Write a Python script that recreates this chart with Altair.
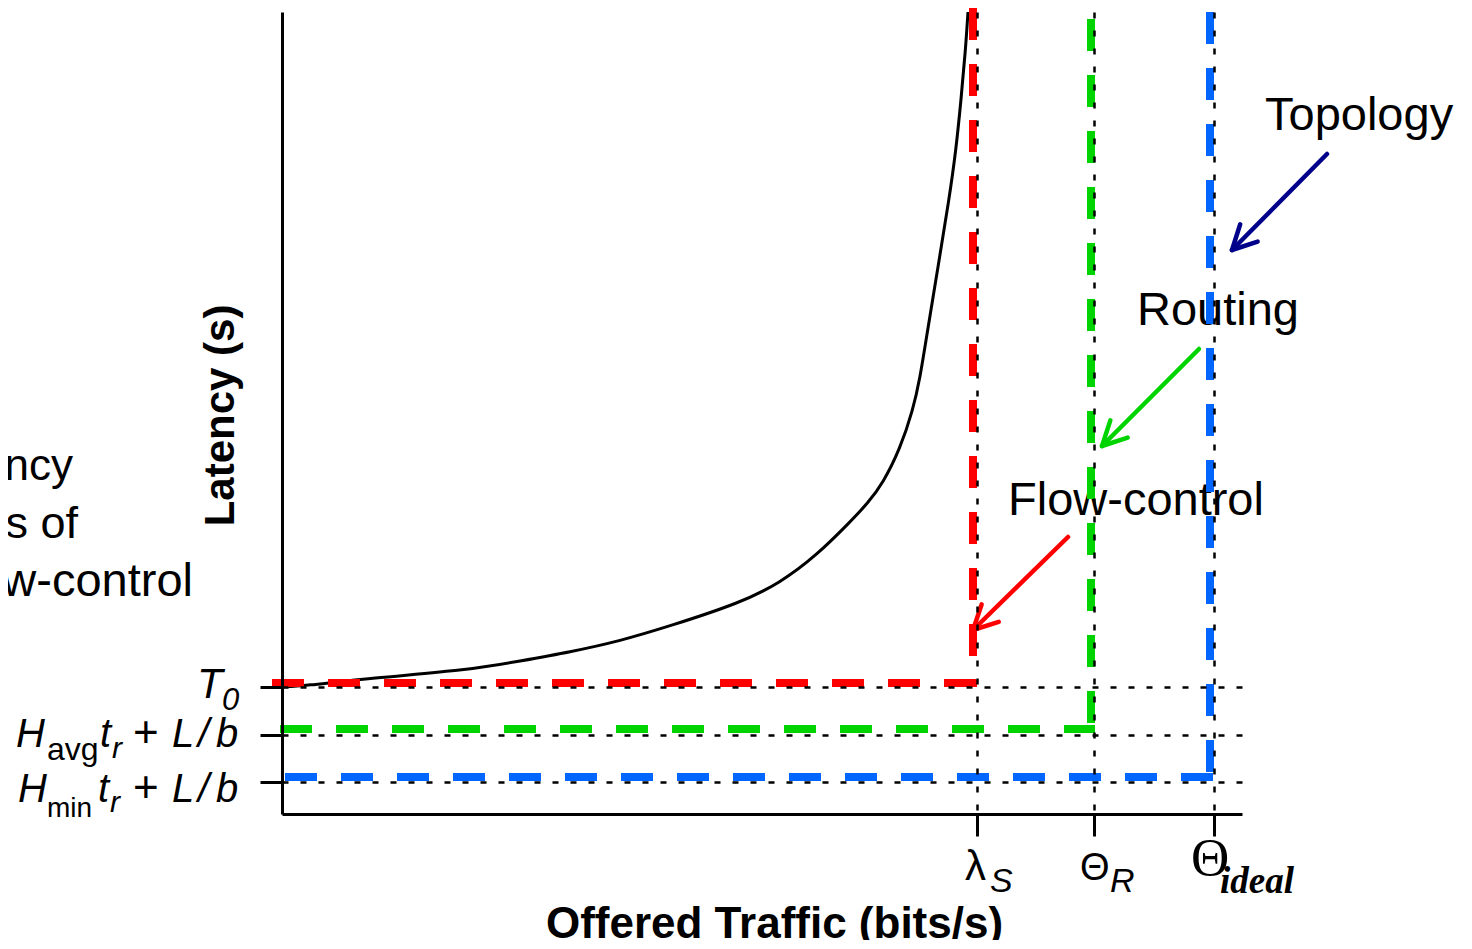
import altair as alt
import numpy as np
import pandas as pd

# ---------------- data ----------------
# latency curve (offered traffic, latency) in arbitrary units
traffic = [0.00, 0.21, 0.88, 1.88, 2.38, 2.88, 3.38, 3.88, 4.58, 4.98, 5.35, 5.68,
           5.86, 6.01, 6.18, 6.31, 6.38, 6.44, 6.56, 6.67, 6.74, 6.79, 6.835, 6.86]
latency = [1.27, 1.28, 1.36, 1.44, 1.53, 1.62, 1.73, 1.88, 2.11, 2.31, 2.59, 2.92,
           3.11, 3.31, 3.65, 4.04, 4.36, 4.74, 5.47, 6.14, 6.64, 7.14, 7.64, 8.02]

# limits: index 0 flow-control (lambda_S), 1 routing (Theta_R), 2 topology (Theta_ideal)
limit_names = ["Flow-control", "Routing", "Topology"]
limit_colors = ["#FF0000", "#00D400", "#0066FF"]
arrow_colors = ["#FF0000", "#00D400", "#00008B"]
tick_traffic = [6.95, 8.12, 9.32]
tick_latency = [1.27, 0.79, 0.32]
bound_traffic = [6.91, 8.09, 9.28]
bound_latency = [1.31, 0.85, 0.37]
bound_start = [-0.10, -0.02, 0.03]
bound_top = [8.06, 7.95, 8.02]

# annotations
note_text = ["Flow-control", "Routing", "Topology"]
note_x = [7.26, 8.55, 9.83]
note_y = [2.99, 4.89, 6.84]
arrow_tail_x = [7.86, 9.17, 10.45]
arrow_tail_y = [2.77, 4.65, 6.60]
arrow_tip_x = [6.91, 8.20, 9.50]
arrow_tip_y = [1.84, 3.68, 5.64]

side_text = ["Latency", "Limits of", "Flow-control"]
side_x = [-2.09, -2.04, -0.89]
side_y = [3.34, 2.76, 2.18]
side_size = [44, 45, 47]

# tick label pieces (math-style labels assembled from pieces)
piece_text = ["T", "0",
              "H", "avg", "t", "r", "+", "L", "/", "b",
              "H", "min", "t", "r", "+", "L", "/", "b",
              "λ", "S", "Θ", "R", "Θ", "ideal"]
piece_x = [-0.85, -0.60,
           -2.66, -2.35, -1.82, -1.70, -1.49, -1.10, -0.84, -0.66,
           -2.64, -2.35, -1.84, -1.72, -1.49, -1.10, -0.84, -0.66,
           6.83, 7.08, 7.98, 8.28, 9.09, 9.38]
piece_y = [1.16, 1.04,
           0.67, 0.54, 0.67, 0.56, 0.67, 0.67, 0.67, 0.67,
           0.12, -0.03, 0.12, 0.02, 0.12, 0.12, 0.12, 0.12,
           -0.66, -0.78, -0.66, -0.78, -0.61, -0.79]
piece_size = [42, 31,
              40, 32, 40, 30, 44, 40, 40, 40,
              40, 28, 40, 30, 44, 40, 40, 40,
              42, 34, 38, 34, 53, 37]
piece_style = ["it", "it",
               "it", "up", "it", "it", "up", "it", "it", "it",
               "it", "up", "it", "it", "up", "it", "it", "it",
               "up", "it", "up", "it", "serif", "serifbi"]

# ---------------- tables ----------------
curve_df = pd.DataFrame({"x": traffic, "y": latency})

seg_rows = []
for i in range(3):
    col = limit_colors[i]
    seg_rows += [
        {"seg": f"{i}h", "o": 0, "x": bound_start[i], "y": bound_latency[i], "col": col},
        {"seg": f"{i}h", "o": 1, "x": bound_traffic[i] + 0.04, "y": bound_latency[i], "col": col},
        {"seg": f"{i}v", "o": 0, "x": bound_traffic[i], "y": bound_top[i], "col": col},
        {"seg": f"{i}v", "o": 1, "x": bound_traffic[i], "y": bound_latency[i] - 0.04, "col": col},
    ]
seg_df = pd.DataFrame(seg_rows)

arrow_rows = []
head_len, head_ang = 0.27, np.deg2rad(27)
for i in range(3):
    tx, ty = arrow_tip_x[i], arrow_tip_y[i]
    sx, sy = arrow_tail_x[i], arrow_tail_y[i]
    col = arrow_colors[i]
    arrow_rows.append({"x": sx, "y": sy, "x2": tx, "y2": ty, "col": col})
    ang = np.arctan2(sy - ty, sx - tx)
    for s in (-1, 1):
        a = ang + s * head_ang
        arrow_rows.append({"x": tx, "y": ty,
                           "x2": tx + head_len * np.cos(a),
                           "y2": ty + head_len * np.sin(a), "col": col})
arrow_df = pd.DataFrame(arrow_rows)

note_df = pd.DataFrame({"x": note_x, "y": note_y, "t": note_text})
side_df = pd.DataFrame({"x": side_x, "y": side_y, "t": side_text, "s": side_size})
piece_df = pd.DataFrame({"x": piece_x, "y": piece_y, "t": piece_text,
                         "s": piece_size, "st": piece_style})

# ---------------- encodings ----------------
SANS = "Liberation Sans"
SERIF = "Liberation Serif"

xscale = alt.Scale(domain=[0, 9.6], nice=False, zero=False)
yscale = alt.Scale(domain=[0, 8.02], nice=False, zero=False)

x_axis = alt.Axis(values=tick_traffic, labels=False, tickSize=22, tickWidth=3,
                  tickColor="black", domainColor="black", domainWidth=3,
                  grid=True, gridColor="black", gridDash=[6, 12], gridWidth=2.5,
                  title="Offered Traffic (bits/s)", titleFont=SANS, titleFontSize=44,
                  titleFontWeight="bold", titleColor="black", titleX=492, titleY=123,
                  titleBaseline="alphabetic", titleAlign="center", titleAngle=0, zindex=1)
y_axis = alt.Axis(values=tick_latency, labels=False, tickSize=22, tickWidth=3,
                  tickColor="black", domainColor="black", domainWidth=3,
                  grid=True, gridColor="black", gridDash=[6, 12], gridWidth=2.5,
                  title="Latency (s)", titleFont=SANS, titleFontSize=42,
                  titleFontWeight="bold", titleColor="black", titleX=-49, titleY=403,
                  titleBaseline="alphabetic", titleAlign="center", titleAngle=270, zindex=1)


def X():
    return alt.X("x:Q", scale=xscale, axis=x_axis)


def Y():
    return alt.Y("y:Q", scale=yscale, axis=y_axis)


notes = alt.Chart(note_df).mark_text(
    align="left", baseline="alphabetic", font=SANS, fontSize=47, color="black"
).encode(x=X(), y=Y(), text="t:N")

side = alt.Chart(side_df).mark_text(
    align="right", baseline="alphabetic", font=SANS, color="black"
).encode(x=X(), y=Y(), text="t:N", size=alt.Size("s:Q", scale=None))

curve = alt.Chart(curve_df).mark_line(
    color="black", strokeWidth=3, interpolate="basis"
).encode(x=X(), y=Y())

limits = alt.Chart(seg_df).mark_line(
    strokeWidth=8, strokeDash=[32, 24], strokeCap="butt"
).encode(x=X(), y=Y(), detail="seg:N", order="o:Q",
         color=alt.Color("col:N", scale=None))

arrows = alt.Chart(arrow_df).mark_rule(
    strokeWidth=4.5, strokeCap="round"
).encode(x=X(), y=Y(), x2="x2:Q", y2="y2:Q",
         color=alt.Color("col:N", scale=None))


def pieces(style, font, fstyle, weight):
    return alt.Chart(piece_df).transform_filter(
        alt.datum.st == style
    ).mark_text(
        align="left", baseline="alphabetic", font=font, fontStyle=fstyle,
        fontWeight=weight, color="black"
    ).encode(x=X(), y=Y(), text="t:N", size=alt.Size("s:Q", scale=None))


labels = (pieces("it", SANS, "italic", "normal")
          + pieces("up", SANS, "normal", "normal")
          + pieces("serif", SERIF, "normal", "normal")
          + pieces("serifbi", SERIF, "italic", "bold"))

chart = alt.layer(notes, side, curve, limits, arrows, labels).properties(
    width=960, height=802,
    autosize=alt.AutoSizeParams(type="none"),
    padding={"left": 274, "top": 4, "right": 220, "bottom": 126},
).configure_view(stroke=None)

chart.save("out.html", embed_options={"renderer": "svg", "actions": False})
